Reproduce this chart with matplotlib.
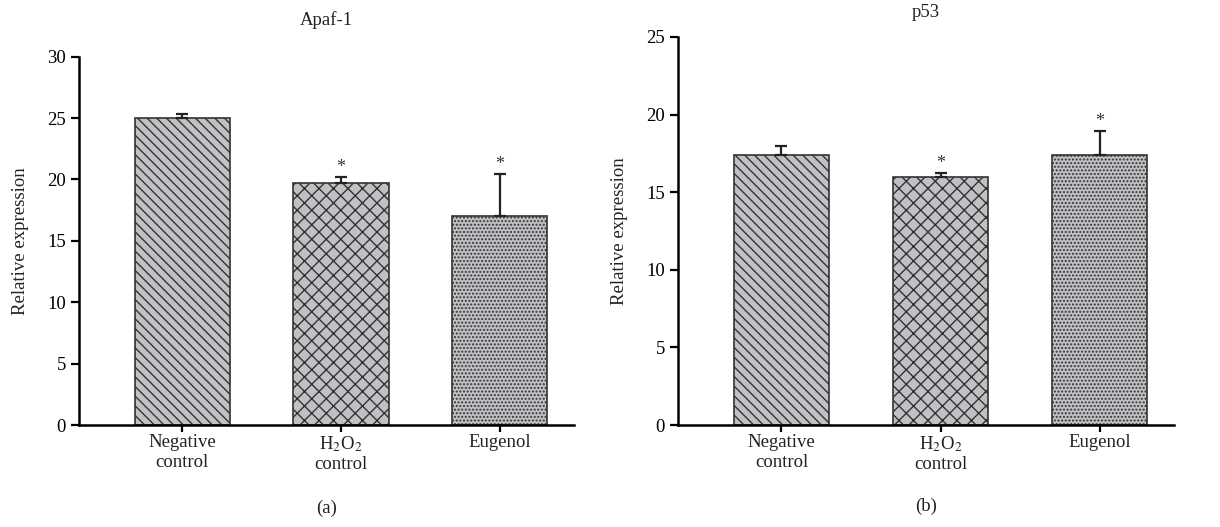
import matplotlib.pyplot as plt
import numpy as np

DPI = 87
S = 100 / DPI  # keeps point sizes as they look at 100 dpi

plt.rcParams['font.family'] = ['Liberation Serif', 'DejaVu Serif']
plt.rcParams['mathtext.fontset'] = 'stix'
plt.rcParams['hatch.linewidth'] = 1.0 * S

groups = ["Negative\ncontrol", "H$_2$O$_2$\ncontrol", "Eugenol"]
apaf_mean = [25.0, 19.75, 17.05]
apaf_err = [0.3, 0.45, 3.4]
apaf_sig = [False, True, True]
p53_mean = [17.4, 15.95, 17.4]
p53_err = [0.55, 0.3, 1.55]
p53_sig = [False, True, True]
hatches = ["\\\\\\", "xx", "...."]

fig = plt.figure(figsize=(1220 / DPI, 527 / DPI), dpi=DPI)
ax1 = fig.add_axes([0.0648, 0.1935, 0.406, 0.699])
ax2 = fig.add_axes([0.5557, 0.1935, 0.407, 0.7365])

fs = 13.5 * S


def draw(ax, mean, err, sig, ymax, title, title_pad, tag, tag_y):
    x = np.arange(len(groups))
    for i in range(len(groups)):
        ax.bar(x[i], mean[i], width=0.6, color="#c0c1c4", edgecolor="#333333",
               hatch=hatches[i], linewidth=1.2 * S, zorder=2)
    ax.errorbar(x, mean, yerr=[[0] * len(x), err], fmt="none", ecolor="#222222",
                elinewidth=1.6 * S, capsize=4 * S, capthick=1.6 * S, zorder=3)
    for i in range(len(x)):
        if sig[i]:
            ax.text(x[i], mean[i] + err[i] + ymax * 0.003, "*", ha="center",
                    va="bottom", fontsize=13 * S, color="#333333")
    ax.set_xlim(-0.65, 2.47)
    ax.set_ylim(0, ymax)
    ax.set_xticks(x)
    ax.set_xticklabels(groups, fontsize=fs, color="#222222", linespacing=1.2)
    ax.set_yticks(np.arange(0, ymax + 1, 5))
    ax.tick_params(axis="y", labelsize=fs, length=6 * S, width=1.6 * S,
                   pad=3.5 * S, direction="out")
    ax.tick_params(axis="x", length=5 * S, width=1.6 * S, direction="out", pad=1.5 * S)
    ax.spines["top"].set_visible(False)
    ax.spines["right"].set_visible(False)
    ax.spines["left"].set_linewidth(1.8 * S)
    ax.spines["bottom"].set_linewidth(1.8 * S)
    ax.set_ylabel("Relative expression", fontsize=fs, color="#222222", labelpad=13 * S)
    ax.set_title(title, fontsize=fs, color="#222222", pad=title_pad * S)
    ax.text(0.5, tag_y, tag, transform=ax.transAxes, ha="center", va="center",
            fontsize=fs, color="#222222")


draw(ax1, apaf_mean, apaf_err, apaf_sig, 30, "Apaf-1", 23, "(a)", -0.225)
draw(ax2, p53_mean, p53_err, p53_sig, 25, "p53", 14, "(b)", -0.21)

fig.savefig("out.png", dpi=DPI)
